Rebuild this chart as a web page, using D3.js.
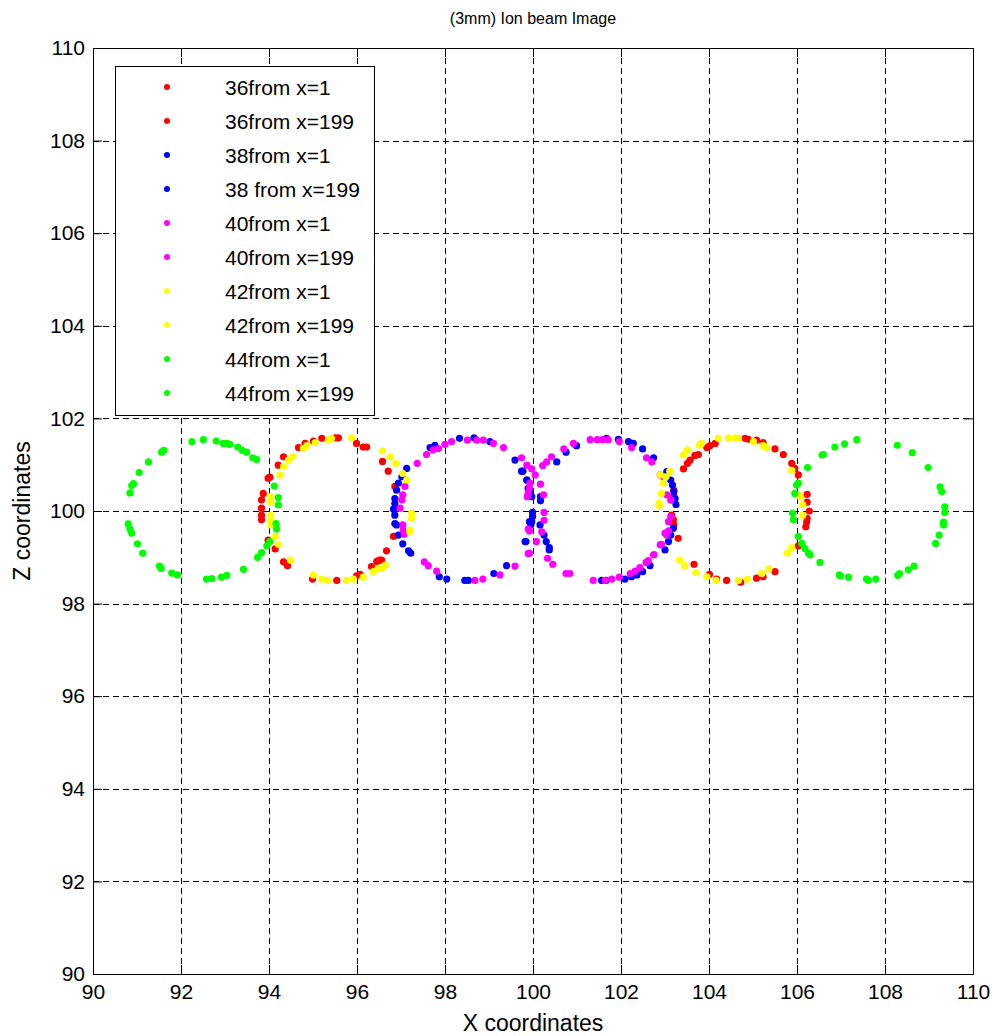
<!DOCTYPE html>
<html>
<head>
<meta charset="utf-8">
<script src="https://cdn.jsdelivr.net/npm/d3@7"></script>
<style>
  body { margin: 0; background: #fff; }
  svg text { font-family: "Liberation Sans", Arial, Helvetica, sans-serif; fill: #000; }
</style>
</head>
<body>
<svg id="chart" width="997" height="1036"></svg>
<script>
// Ion beam image points (X, Z)
const s36from1 = [[94.67,101.37],[94.82,101.46],[95.01,101.51],[95.20,101.57],[95.50,101.58],[95.58,101.58],[95.99,101.46],[96.14,101.38],[96.22,101.38],[94.33,101.17],[94.21,100.99],[94.02,100.73],[93.98,100.71],[93.87,100.38],[93.83,100.24],[93.83,100.06],[93.83,99.91],[93.83,99.81],[93.98,99.37],[94.14,99.18],[94.33,98.90],[94.42,98.82],[94.99,98.53],[95.54,98.50],[95.99,98.60],[96.07,98.63],[96.33,98.80],[96.45,98.91],[96.51,98.94],[96.67,99.14],[96.83,99.45],[96.86,100.53],[96.58,101.07],[96.71,100.86],[96.56,98.94]];
const s36from199 = [[103.42,100.91],[103.51,101.03],[103.57,101.10],[103.68,101.20],[103.76,101.22],[103.95,101.37],[104.02,101.41],[104.14,101.46],[104.82,101.57],[104.89,101.55],[105.08,101.53],[105.23,101.48],[105.50,101.34],[105.69,101.22],[105.88,101.03],[105.95,100.92],[103.20,100.45],[103.20,100.33],[103.15,100.24],[103.15,99.91],[103.19,99.81],[103.20,99.70],[103.30,99.41],[103.66,98.85],[104.01,98.63],[104.17,98.53],[104.40,98.50],[104.72,98.46],[105.08,98.55],[105.23,98.58],[105.50,98.69],[106.03,100.78],[106.23,100.36],[106.23,100.19],[106.28,100.00],[106.23,99.84],[106.22,99.76],[106.20,99.66],[106.03,99.25]];
const s38from1 = [[97.66,101.37],[97.77,101.42],[98.33,101.57],[98.66,101.58],[99.02,101.50],[99.59,101.10],[99.74,100.86],[99.86,100.67],[99.89,100.49],[99.92,99.77],[99.84,99.34],[97.13,100.92],[97.02,100.74],[96.94,100.60],[96.90,100.45],[96.86,100.27],[96.86,100.16],[96.83,100.04],[96.86,99.91],[96.86,99.73],[96.90,99.70],[96.94,99.48],[97.04,99.29],[97.17,99.14],[97.22,99.09],[97.87,98.58],[98.04,98.53],[98.45,98.50],[98.53,98.50],[99.11,98.65],[99.40,98.82]];
const s38from199 = [[99.77,100.86],[99.86,100.67],[99.93,100.42],[99.97,100.31],[100.17,100.31],[100.17,100.22],[99.99,99.97],[99.99,99.88],[99.97,99.77],[99.95,99.70],[100.16,99.70],[100.25,99.48],[100.30,99.34],[100.37,99.21],[100.37,99.16],[99.82,99.34],[100.54,101.06],[100.75,101.27],[100.99,101.41],[101.67,101.57],[101.94,101.55],[102.17,101.50],[102.28,101.46],[102.49,101.34],[102.74,101.15],[103.04,100.85],[101.56,98.50],[101.66,98.50],[102.09,98.53],[102.24,98.58],[102.36,98.62],[102.49,98.69],[102.66,98.82],[103.00,99.16],[103.08,99.34],[103.13,100.67],[103.17,100.56],[103.20,100.42],[103.23,100.27],[103.25,100.14],[103.19,99.63],[103.13,99.48]];
const s40from1 = [[97.58,101.22],[97.73,101.32],[97.85,101.35],[98.00,101.44],[98.15,101.50],[98.51,101.53],[98.72,101.53],[98.87,101.53],[99.10,101.46],[99.33,101.37],[99.74,101.15],[99.86,100.99],[99.87,100.31],[99.89,99.61],[99.89,99.08],[97.37,101.03],[97.09,100.53],[97.04,100.35],[97.02,100.24],[96.98,100.06],[97.04,99.70],[97.05,99.59],[97.07,99.50],[97.53,98.90],[97.62,98.82],[97.81,98.70],[98.68,98.50],[98.86,98.53],[99.25,98.62],[99.59,98.81],[99.97,100.91],[100.05,100.78],[99.93,100.60],[99.92,100.49],[99.89,100.38]];
const s40from199 = [[100.17,100.58],[100.24,100.35],[100.25,99.97],[100.25,99.80],[99.92,99.57],[100.20,99.55],[100.08,99.34],[99.92,99.09],[100.33,98.98],[100.45,98.85],[100.75,98.65],[100.84,98.65],[101.37,98.50],[101.64,98.50],[101.79,98.53],[101.96,98.57],[102.21,98.65],[102.32,98.70],[102.43,98.78],[102.57,98.89],[102.62,98.93],[102.74,99.05],[100.22,100.98],[100.31,101.06],[100.42,101.17],[100.70,101.34],[100.92,101.46],[101.30,101.54],[101.46,101.54],[101.58,101.54],[101.71,101.54],[101.96,101.50],[102.24,101.37],[102.58,101.15],[102.70,101.06],[103.04,100.35],[103.04,99.48],[103.08,99.57],[102.92,99.28],[102.89,100.78],[102.96,100.74],[103.13,100.24],[103.13,99.88],[103.08,99.77],[103.00,99.52],[102.89,99.27],[102.75,99.06]];
const s42from1 = [[94.78,101.35],[94.86,101.41],[95.05,101.48],[95.35,101.54],[95.42,101.57],[95.88,101.58],[96.58,101.30],[96.75,101.17],[96.88,101.03],[94.54,101.17],[94.44,101.10],[94.33,100.96],[94.25,100.78],[94.04,100.31],[94.04,100.20],[94.04,99.91],[94.04,99.81],[94.04,99.70],[94.14,99.45],[94.21,99.28],[94.49,98.94],[95.01,98.62],[95.20,98.53],[95.33,98.50],[95.76,98.50],[95.92,98.53],[96.14,98.57],[96.37,98.69],[96.48,98.76],[96.64,98.83],[97.04,100.81],[97.13,100.67],[97.24,99.95],[97.24,99.84],[97.20,99.59],[97.20,99.55],[96.56,98.76]];
const s42from199 = [[102.89,100.78],[102.96,100.60],[102.92,100.38],[102.87,100.17],[102.87,100.12],[103.11,100.86],[103.02,100.74],[103.42,101.21],[103.51,101.32],[103.78,101.42],[103.83,101.46],[104.21,101.57],[104.44,101.58],[104.59,101.58],[104.67,101.57],[105.01,101.50],[105.23,101.41],[105.31,101.37],[103.33,98.94],[103.45,98.82],[103.70,98.67],[103.95,98.58],[104.16,98.50],[104.67,98.50],[104.87,98.53],[105.20,98.65],[105.36,98.75],[105.78,99.09],[105.88,99.21],[105.88,100.88],[106.07,100.31],[106.13,100.14],[106.13,99.91],[106.05,100.35]];
const s44from1 = [[92.25,101.50],[92.51,101.54],[92.80,101.51],[92.96,101.46],[93.04,101.46],[93.11,101.44],[93.29,101.38],[93.39,101.31],[93.49,101.27],[93.63,101.15],[93.72,101.11],[91.56,101.27],[91.61,101.31],[91.26,101.06],[91.05,100.83],[90.92,100.59],[90.88,100.55],[90.84,100.39],[90.80,99.72],[90.84,99.61],[90.88,99.52],[91.01,99.29],[91.13,99.09],[91.51,98.81],[91.55,98.76],[91.79,98.66],[91.92,98.62],[92.58,98.53],[92.70,98.54],[92.92,98.57],[93.04,98.61],[93.42,98.74],[93.74,99.00],[94.12,100.54],[94.21,100.29],[94.21,100.13],[94.16,99.73],[94.17,99.61],[94.02,99.34],[93.95,99.25],[93.83,99.10]];
const s44from199 = [[106.24,100.94],[105.99,100.56],[106.03,100.60],[105.95,100.38],[105.90,99.95],[105.92,99.81],[106.03,99.45],[106.11,99.30],[106.18,99.19],[106.26,99.09],[106.30,99.05],[106.52,98.89],[106.96,98.62],[106.99,98.60],[107.17,98.57],[107.58,98.53],[107.62,98.50],[107.79,98.53],[108.29,98.61],[108.33,98.65],[108.53,98.73],[108.66,98.81],[109.15,99.30],[109.23,99.48],[109.33,99.70],[109.33,99.76],[109.36,99.97],[109.36,100.09],[109.29,100.42],[109.25,100.52],[108.98,100.94],[108.62,101.26],[108.28,101.42],[107.36,101.54],[107.08,101.45],[106.86,101.38],[106.60,101.22],[106.57,101.21]];

const seriesNames = ["36from x=1", "36from x=199", "38from x=1", "38 from x=199", "40from x=1",
                     "40from x=199", "42from x=1", "42from x=199", "44from x=1", "44from x=199"];
const seriesColors = ["#ff0000", "#ff0000", "#0000ff", "#0000ff", "#ff00ff",
                      "#ff00ff", "#ffff00", "#ffff00", "#00ff00", "#00ff00"];
const seriesData = [s36from1, s36from199, s38from1, s38from199, s40from1,
                    s40from199, s42from1, s42from199, s44from1, s44from199];
const tickValues = d3.range(90, 111, 2);

const svg = d3.select("#chart");
const x = d3.scaleLinear().domain([90, 110]).range([93, 973]);
const y = d3.scaleLinear().domain([90, 110]).range([974, 48]);

// dashed grid
const grid = svg.append("g");
grid.selectAll("line.gx").data(tickValues.slice(1, -1)).join("line")
    .attr("x1", d => Math.round(x(d)) + 0.5).attr("x2", d => Math.round(x(d)) + 0.5)
    .attr("y1", y(90)).attr("y2", y(110));
grid.selectAll("line.gy").data(tickValues.slice(1, -1)).join("line")
    .attr("class", "gy")
    .attr("x1", x(90)).attr("x2", x(110))
    .attr("y1", d => Math.round(y(d)) + 0.5).attr("y2", d => Math.round(y(d)) + 0.5);
grid.selectAll("line").attr("stroke", "#000").attr("stroke-width", 1).attr("stroke-dasharray", "6,4");

// points, drawn in legend order so later series sit on top
seriesData.forEach((pts, i) => {
    svg.append("g").selectAll("circle").data(pts).join("circle")
        .attr("cx", d => x(d[0])).attr("cy", d => y(d[1]))
        .attr("r", 3.6).attr("fill", seriesColors[i]);
});

// axes, ticks inward on all four sides
function styleAxis(g) {
    g.select(".domain").attr("stroke", "#000");
    g.selectAll(".tick line").attr("stroke", "#000");
    g.selectAll("text").attr("font-size", 21).attr("fill", "#000")
        .attr("font-family", "'Liberation Sans', Arial, sans-serif");
}
svg.append("g").attr("transform", `translate(0,${y(90)})`)
    .call(d3.axisBottom(x).tickValues(tickValues).tickSize(-9).tickPadding(10).tickSizeOuter(0))
    .call(styleAxis);
svg.append("g").attr("transform", `translate(0,${y(110)})`)
    .call(d3.axisTop(x).tickValues(tickValues).tickSize(-9).tickFormat("").tickSizeOuter(0))
    .call(styleAxis);
svg.append("g").attr("transform", `translate(${x(90)},0)`)
    .call(d3.axisLeft(y).tickValues(tickValues).tickSize(-9).tickPadding(8).tickSizeOuter(0))
    .call(styleAxis);
svg.append("g").attr("transform", `translate(${x(110)},0)`)
    .call(d3.axisRight(y).tickValues(tickValues).tickSize(-9).tickFormat("").tickSizeOuter(0))
    .call(styleAxis);

// titles
svg.append("text").attr("x", 533).attr("y", 24).attr("text-anchor", "middle")
    .attr("font-size", 16).text("(3mm) Ion beam Image");
svg.append("text").attr("x", 533).attr("y", 1031).attr("text-anchor", "middle")
    .attr("font-size", 23).text("X coordinates");
svg.append("text").attr("transform", "translate(30,511) rotate(-90)").attr("text-anchor", "middle")
    .attr("font-size", 23).text("Z coordinates");

// legend
const lg = svg.append("g");
lg.append("rect").attr("x", 115.5).attr("y", 66.5).attr("width", 259).attr("height", 349)
    .attr("fill", "#fff").attr("stroke", "#000");
const row = d3.scaleLinear().domain([0, 9]).range([87, 393]);
seriesNames.forEach((name, i) => {
    lg.append("circle").attr("cx", 167).attr("cy", row(i)).attr("r", 3).attr("fill", seriesColors[i]);
    lg.append("text").attr("x", 225).attr("y", row(i)).attr("dy", "0.36em")
        .attr("font-size", 21).text(name);
});
</script>
</body>
</html>
